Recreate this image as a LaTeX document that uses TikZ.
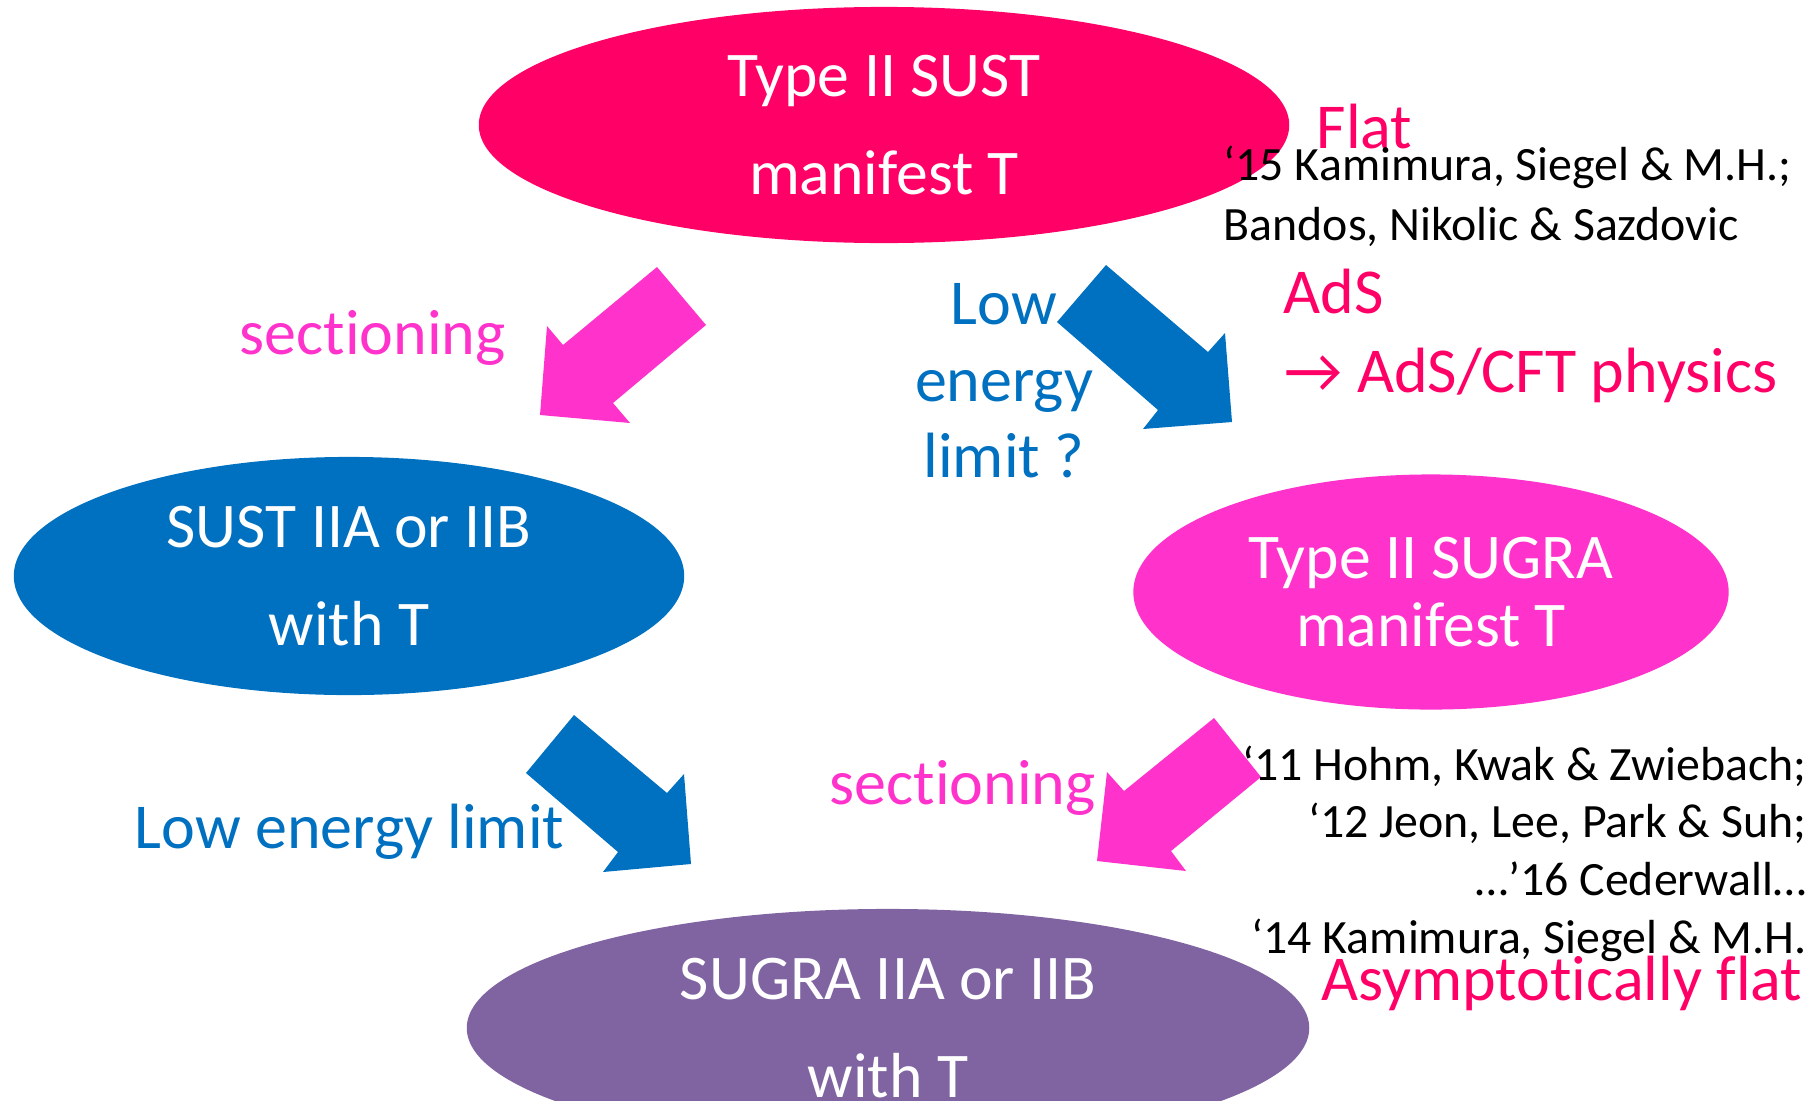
\documentclass[tikz,border=0pt]{standalone}
\usepackage{fontspec}
\setmainfont{Carlito}[Ligatures=NoCommon]
\usetikzlibrary{shapes.geometric}
\definecolor{sustred}{RGB}{255,0,102}
\definecolor{sugrapink}{RGB}{255,51,204}
\definecolor{limitblue}{RGB}{0,112,192}
\definecolor{purplesugra}{RGB}{128,100,162}

\begin{document}
\begin{tikzpicture}[
    x=0.01cm, y=-0.01cm,
    theory/.style={ellipse, inner sep=0pt, text=white, align=center,
                   font=\fontsize{18.1}{27.9}\selectfont},
    label/.style={inner sep=0pt, font=\fontsize{18.2}{21.8}\selectfont},
    refs/.style={inner sep=0pt, text=black, font=\fontsize{13.6}{16.5}\selectfont}
]
\useasboundingbox (0,0) rectangle (1816,1100);
\clip (0,0) rectangle (1816,1100);

% Theories (ellipses)
\node[theory, fill=sustred, minimum width=8.1cm, minimum height=2.36cm] (sust) at (884,125)
      {Type II SUST\\manifest T};
\node[theory, fill=limitblue, minimum width=6.7cm, minimum height=2.38cm] (sustab) at (349,576)
      {SUST IIA or IIB\\with T};
\node[theory, fill=sugrapink, minimum width=5.95cm, minimum height=2.35cm,
      font=\fontsize{18.1}{19.4}\selectfont] (sugra) at (1431,592)
      {Type II SUGRA\\manifest T};
\node[theory, fill=purplesugra, minimum width=8.42cm, minimum height=2.38cm] (sugraab) at (888,1028)
      {SUGRA IIA or IIB\\with T};

% Block arrows
\fill[sugrapink] (657,267) -- (706,325) -- (613,403) -- (630,423) -- (540,415) -- (547,326) -- (563,345) -- cycle;
\fill[limitblue] (1106,265) -- (1057,322) -- (1158,410) -- (1143,429) -- (1232,422) -- (1225,333) -- (1208,352) -- cycle;
\fill[limitblue] (574,715) -- (526,773) -- (618,852) -- (603,872) -- (691,864) -- (684,774) -- (667,793) -- cycle;
\fill[sugrapink] (1214,718) -- (1261,777) -- (1171,851) -- (1186,871) -- (1097,861) -- (1107,772) -- (1124,791) -- cycle;

% Arrow labels
\node[label, text=sugrapink, anchor=base west] (secleft) at (239,354) {sectioning};
\node[label, text=limitblue, align=center] (lowq) at (1004,381) {Low\\energy\\limit ?};
\node[label, text=limitblue, anchor=base west] (lowleft) at (134,848) {Low energy limit};
\node[label, text=sugrapink, anchor=base west] (secright) at (829,804) {sectioning};

% Backgrounds and references
\node[label, text=sustred, anchor=base west] (flat) at (1316,148) {Flat};
\node[refs, anchor=base west] (ref15a) at (1223,180) {‘15 Kamimura, Siegel \& M.H.;};
\node[refs, anchor=base west] (ref15b) at (1223,240) {Bandos, Nikolic \& Sazdovic};
\node[label, text=sustred, anchor=base west] (ads) at (1283,313) {AdS};
\node[label, text=sustred, anchor=base west] (adscft) at (1284,392) {→ AdS/CFT physics};

\node[refs, anchor=base east] (ref11) at (1807,780) {‘11 Hohm, Kwak \& Zwiebach;};
\node[refs, anchor=base east] (ref12) at (1807,837) {‘12 Jeon, Lee, Park \& Suh;};
\node[refs, anchor=base east] (ref16) at (1807,895) {…’16 Cederwall…};
\node[refs, anchor=base east] (ref14) at (1807,953) {‘14 Kamimura, Siegel \& M.H.};
\node[label, text=sustred, anchor=base east] (asym) at (1803,1000) {Asymptotically flat};

\end{tikzpicture}
\end{document}
